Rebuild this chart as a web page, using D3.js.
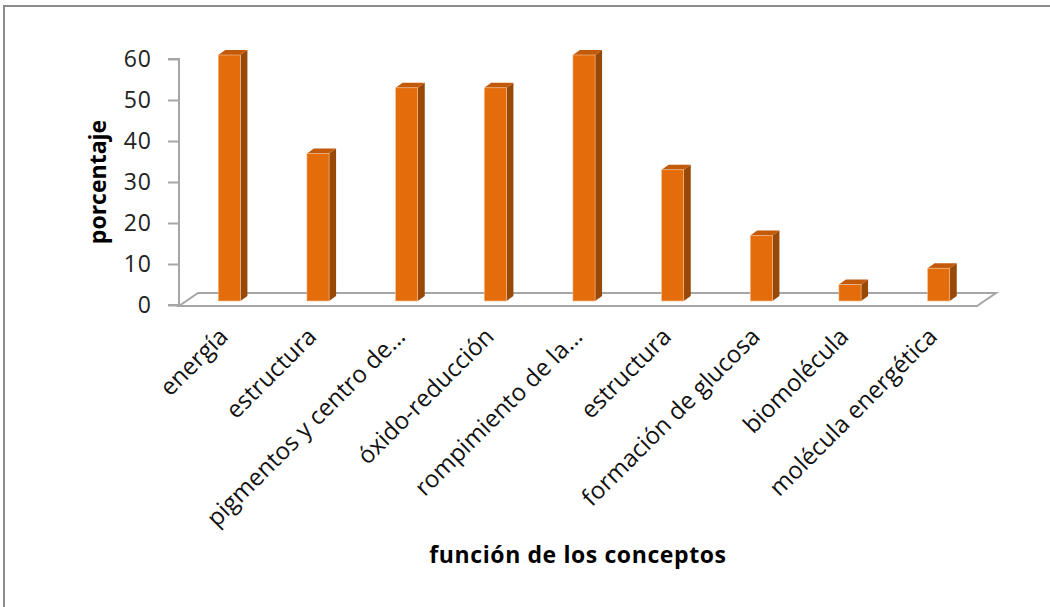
<!DOCTYPE html>
<html>
<head>
<meta charset="utf-8">
<script src="https://cdn.jsdelivr.net/npm/d3@7/dist/d3.min.js"></script>
<style>
  html, body { margin: 0; padding: 0; background: #fff; }
  svg { display: block; }
</style>
</head>
<body>
<svg id="chart" width="1050" height="607"></svg>
<script>
// Concept categories and the share (%) of each
const categories = [
  "energía",
  "estructura",
  "pigmentos y centro de…",
  "óxido-reducción",
  "rompimiento de la…",
  "estructura ",
  "formación de glucosa",
  "biomolécula",
  "molécula energética"
];
const values = [60, 36, 52, 52, 60, 32, 16, 4, 8];
const yTicks = [0, 10, 20, 30, 40, 50, 60];

const svg = d3.select("#chart");
const font = "'Open Sans', 'Noto Sans', sans-serif";

// Frame (top and left edges)
svg.append("path")
  .attr("d", "M4,607 L4,6 L1050,6")
  .attr("fill", "none")
  .attr("stroke", "#8c8c8c")
  .attr("stroke-width", 2);

// Plot geometry
const floorLeft = 179, floorRight = 977, floorFront = 306;
const depthX = 19, depthY = -13;        // floor depth offset (back edge)
const barDX = 6, barDY = -4;            // bar front face sits a little into the floor
const sideDX = 7, sideDY = -5;          // bar thickness

const x = d3.scaleBand()
  .domain(categories)
  .range([floorLeft, floorRight])
  .paddingInner(0.75)
  .paddingOuter(0.375);

const y = d3.scaleLinear()
  .domain([0, 60])
  .range([305, 59]);

// Floor parallelogram
svg.append("path")
  .attr("d", `M${floorLeft},${floorFront} L${floorRight},${floorFront} L${floorRight + depthX},${floorFront + depthY} L${floorLeft + depthX},${floorFront + depthY} Z`)
  .attr("fill", "none")
  .attr("stroke", "#a6a6a6")
  .attr("stroke-width", 2);

// Vertical axis with ticks to the left
const yAxis = d3.axisLeft(y)
  .tickValues(yTicks)
  .tickSize(11)
  .tickPadding(16);

const gy = svg.append("g")
  .attr("transform", `translate(${floorLeft},0)`)
  .call(yAxis);
gy.select(".domain").attr("stroke", "#a6a6a6").attr("stroke-width", 2)
  .attr("d", `M-11,${y(60)}H0V${y(0)}H-11`);
gy.selectAll(".tick line").attr("stroke", "#a6a6a6").attr("stroke-width", 2);
gy.selectAll(".tick text")
  .attr("font-family", font)
  .attr("font-size", 23)
  .attr("letter-spacing", 1)
  .attr("fill", "#222");

// 3D bars: side, top, then front face
const bars = svg.append("g").selectAll("g.bar")
  .data(categories.map((c, i) => ({ c, v: values[i] })))
  .join("g")
  .attr("class", "bar");

bars.each(function (d) {
  const g = d3.select(this);
  const x0 = x(d.c) + barDX;
  const x1 = x0 + x.bandwidth();
  const yT = y(d.v) + barDY;
  const yB = y(0) + barDY;
  g.append("polygon")
    .attr("points", [[x1, yB], [x1, yT], [x1 + sideDX, yT + sideDY], [x1 + sideDX, yB + sideDY]].join(" "))
    .attr("fill", "#984807");
  g.append("polygon")
    .attr("points", [[x0, yT], [x1, yT], [x1 + sideDX, yT + sideDY], [x0 + sideDX, yT + sideDY]].join(" "))
    .attr("fill", "#c25a0a");
  g.append("rect")
    .attr("x", x0)
    .attr("y", yT)
    .attr("width", x.bandwidth())
    .attr("height", yB - yT)
    .attr("fill", "#e46c0a")
    .attr("stroke", "#f6c49a")
    .attr("stroke-width", 0.6);
});

// Category labels rotated -45°
svg.append("g").selectAll("text")
  .data(categories)
  .join("text")
  .attr("transform", d => `translate(${x(d) + x.bandwidth() / 2 + 6},${338}) rotate(-45)`)
  .attr("text-anchor", "end")
  .attr("font-family", font)
  .attr("font-size", 24)
  .attr("fill", "#111")
  .text(d => d.trim());

// Axis titles
svg.append("text")
  .attr("x", 578)
  .attr("y", 563)
  .attr("text-anchor", "middle")
  .attr("font-family", font)
  .attr("font-weight", "bold")
  .attr("font-size", 23)
  .attr("letter-spacing", 0.6)
  .attr("fill", "#000")
  .text("función de los conceptos");

svg.append("text")
  .attr("transform", "translate(106,182) rotate(-90)")
  .attr("text-anchor", "middle")
  .attr("font-family", font)
  .attr("font-weight", "bold")
  .attr("font-size", 23)
  .attr("fill", "#000")
  .text("porcentaje");
</script>
</body>
</html>
